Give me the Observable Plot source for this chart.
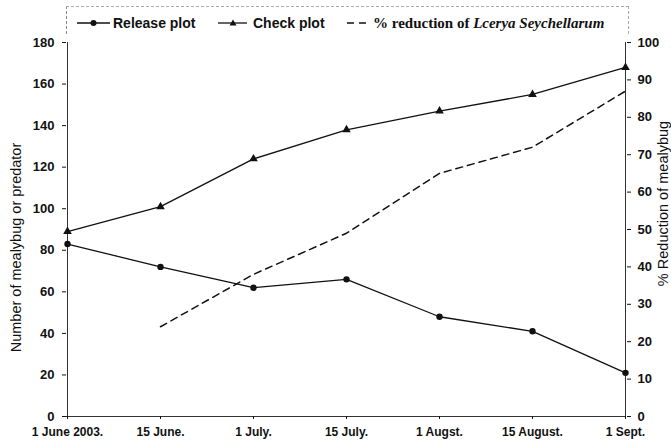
<!DOCTYPE html>
<html><head><meta charset="utf-8">
<script src="https://cdn.jsdelivr.net/npm/d3@7"></script>
<script src="https://cdn.jsdelivr.net/npm/@observablehq/plot@0.6"></script>
<style>
body{margin:0;background:#fff;}
#wrap{position:relative;width:671px;height:448px;overflow:hidden;}
#legend{position:absolute;left:66px;top:6px;width:563px;height:28px;border-top:1px dashed #aaa;border-left:1px dashed #888;border-right:1px dashed #aaa;box-sizing:border-box;}
.item{position:absolute;top:6px;height:20px;display:flex;align-items:center;font:bold 14px "Liberation Sans",Arial,sans-serif;color:#111;white-space:nowrap;}
.serif{font-family:"Liberation Serif","Times New Roman",serif;font-size:15px;}
#chart{position:absolute;left:0;top:36px;}
</style></head>
<body><div id="wrap">
<div id="legend">
  <div class="item" style="left:10px"><svg width="36" height="10"><line x1="0" y1="5" x2="33" y2="5" stroke="#111" stroke-width="1.3"/><circle cx="16.5" cy="5" r="3" fill="#111"/></svg>Release plot</div>
  <div class="item" style="left:151px"><svg width="35" height="10"><line x1="0" y1="5" x2="29" y2="5" stroke="#111" stroke-width="1.3"/><path d="M15,1.5 L18.5,7.5 L11.5,7.5 Z" fill="#111"/></svg>Check plot</div>
  <div class="item serif" style="left:280px"><svg width="26" height="10"><line x1="0" y1="5" x2="22" y2="5" stroke="#111" stroke-width="1.3" stroke-dasharray="7,5"/></svg>%&nbsp;reduction of&nbsp;<i>Lcerya Seychellarum</i></div>
</div>
<div id="chart"></div>
</div>
<script>
const dates = ["1 June 2003.","15 June.","1 July.","15 July.","1 Augst.","15 August.","1 Sept."];
const release = [83,72,62,66,48,41,21];
const check = [89,101,124,138,147,155,168];
const reduction = [null,24,38,49,65,72,87];
const leftTicks = [0,20,40,60,80,100,120,140,160,180];
const rightTicks = [0,10,20,30,40,50,60,70,80,90,100];
const leftTitle = "Number of mealybug or predator";
const rightTitle = "% Reduction of mealybug";
const k = 180 / 100;

const rows = dates.map((d, i) => ({date: d, release: release[i], check: check[i], reduction: reduction[i]}));
const redRows = rows.filter(r => r.reduction != null).map(r => ({date: r.date, y: r.reduction * k}));

const chart = Plot.plot({
  width: 671,
  height: 412,
  marginTop: 6,
  marginBottom: 32,
  marginLeft: 66,
  marginRight: 45,
  style: {fontFamily: "'Liberation Sans', Arial, sans-serif", fontSize: "13px", fontWeight: "bold", color: "#111", background: "#fff"},
  x: {type: "point", domain: dates, padding: 0},
  y: {domain: [0, 180]},
  marks: [
    Plot.ruleY([180], {x1: dates[0], x2: dates[3], stroke: "#999", strokeWidth: 1, strokeDasharray: "2,1"}),
    Plot.ruleX([dates[0]], {stroke: "#333", strokeWidth: 1}),
    Plot.ruleX([dates[6]], {stroke: "#333", strokeWidth: 1}),
    Plot.ruleY([0], {stroke: "#333", strokeWidth: 1}),
    Plot.axisX({tickSize: 3, tickPadding: 8, label: null, fontSize: 12}),
    Plot.axisY(leftTicks, {anchor: "left", tickSize: 4, tickPadding: 8, label: null}),
    Plot.axisY(rightTicks.map(d => d * k), {anchor: "right", tickSize: 4, tickPadding: 7, label: null, tickFormat: d => String(Math.round(d / k))}),
    Plot.line(rows, {x: "date", y: "release", stroke: "#111", strokeWidth: 1.3}),
    Plot.dot(rows, {x: "date", y: "release", r: 3.2, fill: "#111", stroke: "none"}),
    Plot.line(rows, {x: "date", y: "check", stroke: "#111", strokeWidth: 1.3}),
    Plot.dot(rows, {x: "date", y: "check", r: 3.2, symbol: "triangle", fill: "#111", stroke: "none"}),
    Plot.line(redRows, {x: "date", y: "y", stroke: "#111", strokeWidth: 1.5, strokeDasharray: "7,5"}),
    Plot.text([leftTitle], {frameAnchor: "left", textAnchor: "middle", dx: -50, dy: 18, rotate: -90, fontSize: 14.5, fontWeight: "normal", fill: "#111"}),
    Plot.text([rightTitle], {frameAnchor: "right", textAnchor: "middle", dx: 37, dy: -26, rotate: -90, fontSize: 14.5, fontWeight: "normal", fill: "#111"})
  ]
});
document.getElementById("chart").appendChild(chart);
</script>
</body></html>
